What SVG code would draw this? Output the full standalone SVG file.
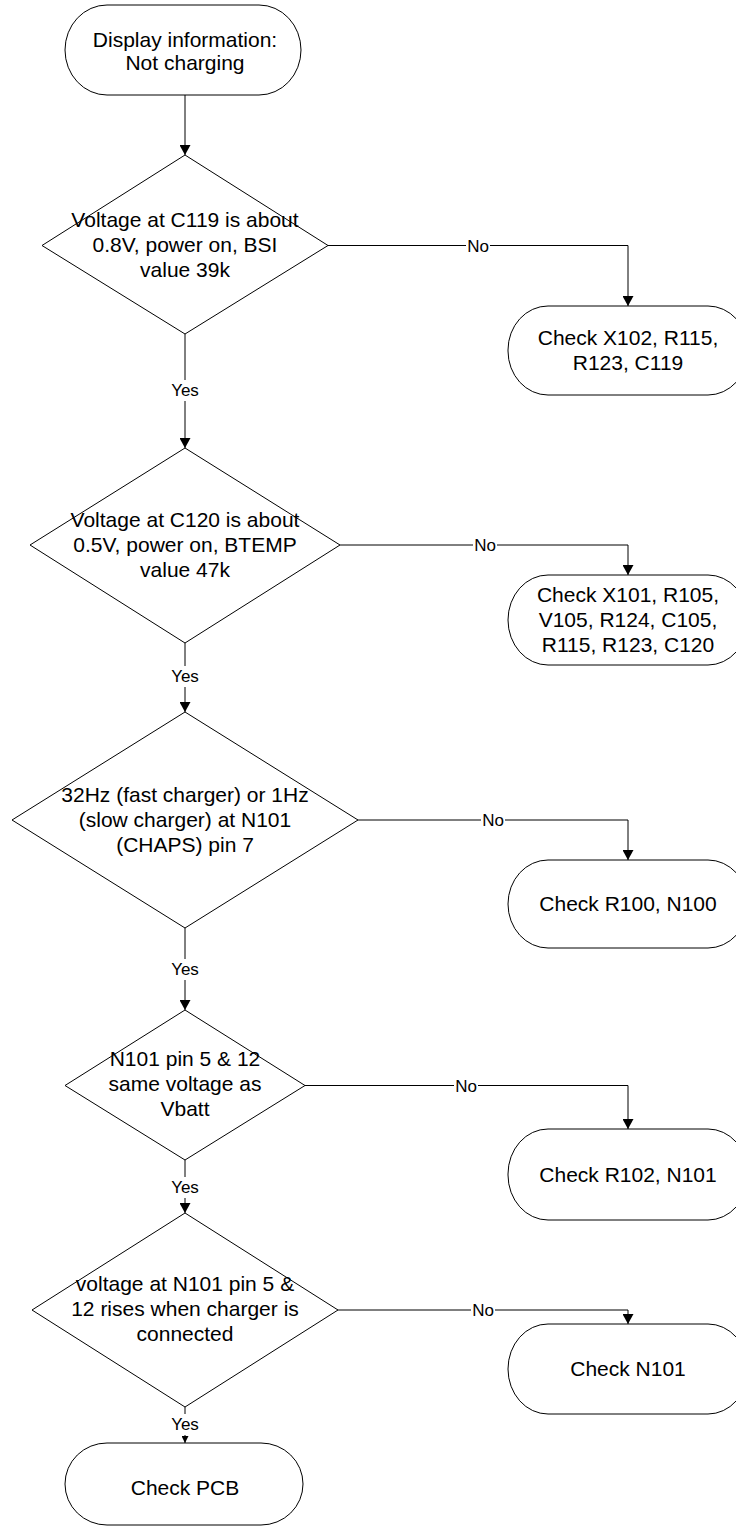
<svg xmlns="http://www.w3.org/2000/svg" width="736" height="1527" viewBox="0 0 736 1527">
  <style>
    .shape { fill: #ffffff; stroke: #000000; stroke-width: 1; }
    .txt { font-family: "Liberation Sans", Arial, sans-serif; font-size: 21px; fill: #000000; text-anchor: middle; }
    .lbl { font-family: "Liberation Sans", Arial, sans-serif; font-size: 17px; fill: #000000; text-anchor: middle; }
    .wire { fill: none; stroke: #000000; stroke-width: 1; }
    .gap { fill: #ffffff; stroke: none; }
  </style>
  <defs>
    <marker id="arrow" markerUnits="userSpaceOnUse" markerWidth="11" markerHeight="11" refX="10" refY="5.5" orient="auto">
      <path d="M0,0 L10,5.5 L0,11 z" fill="#000000"/>
    </marker>
    <marker id="arrow-small" markerUnits="userSpaceOnUse" markerWidth="7" markerHeight="7" refX="7" refY="3.5" orient="auto">
      <path d="M0,0 L7,3.5 L0,7 z" fill="#000000"/>
    </marker>
  </defs>

  <!-- connectors -->
  <g id="connectors">
    <path class="wire" d="M185,95 V155" marker-end="url(#arrow)"/>
    <path class="wire" d="M185,334 V448" marker-end="url(#arrow)"/>
    <path class="wire" d="M185,643 V712" marker-end="url(#arrow)"/>
    <path class="wire" d="M185,928 V1010" marker-end="url(#arrow)"/>
    <path class="wire" d="M185,1160 V1213" marker-end="url(#arrow)"/>
    <path class="wire" d="M185,1407 V1443" marker-end="url(#arrow-small)"/>

    <path class="wire" d="M328,245.5 H628 V306" marker-end="url(#arrow)"/>
    <path class="wire" d="M340,545 H628 V575" marker-end="url(#arrow)"/>
    <path class="wire" d="M358,820 H628 V860" marker-end="url(#arrow)"/>
    <path class="wire" d="M305,1085.5 H628 V1129" marker-end="url(#arrow)"/>
    <path class="wire" d="M338,1310 H628 V1324" marker-end="url(#arrow)"/>

    <!-- branch labels -->
    <rect class="gap" x="169" y="380" width="32" height="21"/>
    <text class="lbl" x="185" y="396">Yes</text>
    <rect class="gap" x="169" y="666" width="32" height="21"/>
    <text class="lbl" x="185" y="682">Yes</text>
    <rect class="gap" x="169" y="959" width="32" height="21"/>
    <text class="lbl" x="185" y="975">Yes</text>
    <rect class="gap" x="169" y="1177" width="32" height="21"/>
    <text class="lbl" x="185" y="1193">Yes</text>
    <rect class="gap" x="169" y="1414" width="32" height="21"/>
    <text class="lbl" x="185" y="1430">Yes</text>

    <rect class="gap" x="466" y="236" width="24" height="18"/>
    <text class="lbl" x="478" y="251.5">No</text>
    <rect class="gap" x="473" y="536" width="24" height="18"/>
    <text class="lbl" x="485" y="551">No</text>
    <rect class="gap" x="481" y="811" width="24" height="18"/>
    <text class="lbl" x="493" y="826">No</text>
    <rect class="gap" x="454" y="1076" width="24" height="18"/>
    <text class="lbl" x="466" y="1091.5">No</text>
    <rect class="gap" x="471" y="1301" width="24" height="18"/>
    <text class="lbl" x="483" y="1316">No</text>
  </g>

  <!-- start -->
  <g id="start">
    <rect class="shape" x="65" y="5" width="236" height="90" rx="42" ry="45"/>
    <text class="txt" x="185" y="47">Display information:</text>
    <text class="txt" x="185" y="70">Not charging</text>
  </g>

  <!-- decisions -->
  <g id="decision-c119">
    <polygon class="shape" points="185,155 328,245.5 185,334 42,245.5"/>
    <text class="txt" x="185" y="227">Voltage at C119 is about</text>
    <text class="txt" x="185" y="252">0.8V, power on, BSI</text>
    <text class="txt" x="185" y="277">value 39k</text>
  </g>

  <g id="decision-c120">
    <polygon class="shape" points="185,448 340,545 185,643 30,545"/>
    <text class="txt" x="185" y="527">Voltage at C120 is about</text>
    <text class="txt" x="185" y="552">0.5V, power on, BTEMP</text>
    <text class="txt" x="185" y="577">value 47k</text>
  </g>

  <g id="decision-chaps">
    <polygon class="shape" points="185,712 358,820 185,928 12,820"/>
    <text class="txt" x="185" y="802">32Hz (fast charger) or 1Hz</text>
    <text class="txt" x="185" y="827">(slow charger) at N101</text>
    <text class="txt" x="185" y="852">(CHAPS) pin 7</text>
  </g>

  <g id="decision-vbatt">
    <polygon class="shape" points="185,1010 305,1085.5 185,1160 65,1085.5"/>
    <text class="txt" x="185" y="1066">N101 pin 5 &amp; 12</text>
    <text class="txt" x="185" y="1091">same voltage as</text>
    <text class="txt" x="185" y="1116">Vbatt</text>
  </g>

  <g id="decision-rise">
    <polygon class="shape" points="185,1213 338,1310 185,1407 32,1310"/>
    <text class="txt" x="185" y="1291">voltage at N101 pin 5 &amp;</text>
    <text class="txt" x="185" y="1316">12 rises when charger is</text>
    <text class="txt" x="185" y="1341">connected</text>
  </g>

  <!-- outcomes -->
  <g id="check-x102">
    <rect class="shape" x="508" y="306" width="240" height="89" rx="40" ry="44"/>
    <text class="txt" x="628" y="345">Check X102, R115,</text>
    <text class="txt" x="628" y="370">R123, C119</text>
  </g>

  <g id="check-x101">
    <rect class="shape" x="508" y="575" width="240" height="90" rx="40" ry="45"/>
    <text class="txt" x="628" y="602">Check X101, R105,</text>
    <text class="txt" x="628" y="627">V105, R124, C105,</text>
    <text class="txt" x="628" y="652">R115, R123, C120</text>
  </g>

  <g id="check-r100">
    <rect class="shape" x="508" y="860" width="240" height="88" rx="40" ry="44"/>
    <text class="txt" x="628" y="911">Check R100, N100</text>
  </g>

  <g id="check-r102">
    <rect class="shape" x="508" y="1129" width="240" height="91" rx="40" ry="45"/>
    <text class="txt" x="628" y="1182">Check R102, N101</text>
  </g>

  <g id="check-n101">
    <rect class="shape" x="508" y="1324" width="240" height="90" rx="40" ry="45"/>
    <text class="txt" x="628" y="1376">Check N101</text>
  </g>

  <g id="check-pcb">
    <rect class="shape" x="65" y="1443" width="238" height="82" rx="42" ry="41"/>
    <text class="txt" x="185" y="1495">Check PCB</text>
  </g>
</svg>
